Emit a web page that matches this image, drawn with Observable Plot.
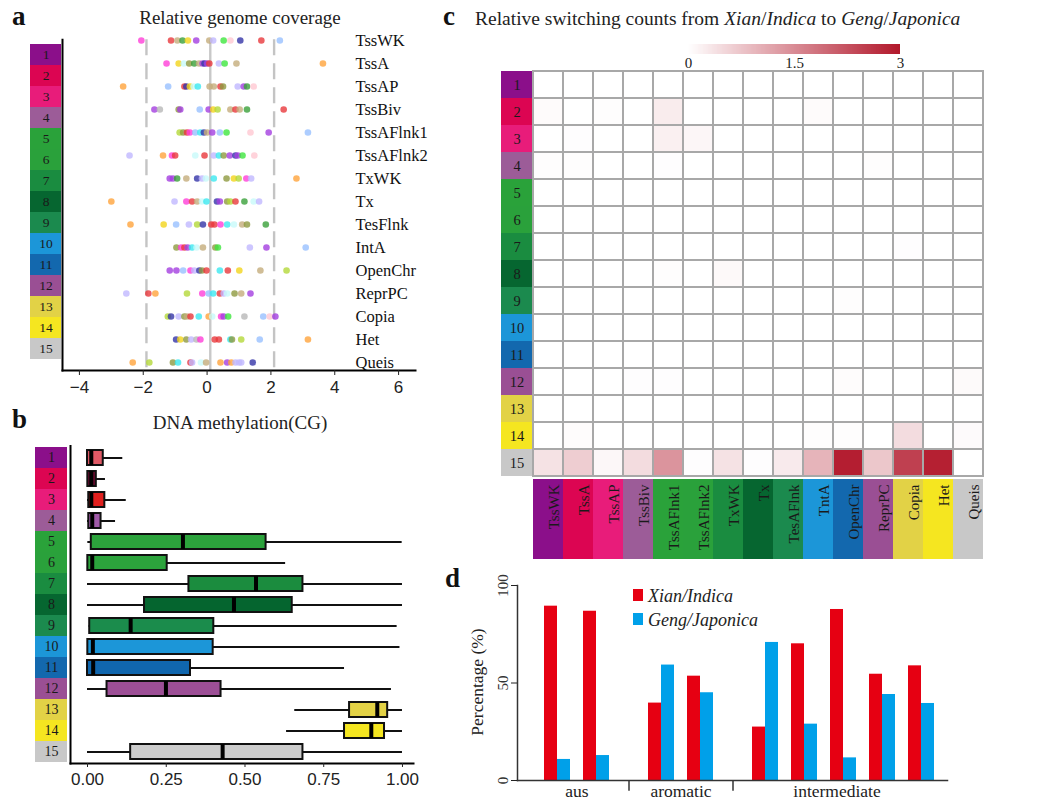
<!DOCTYPE html>
<html><head><meta charset="utf-8">
<script src="https://cdn.jsdelivr.net/npm/d3@7"></script>
<script src="https://cdn.jsdelivr.net/npm/@observablehq/plot@0.6"></script>
<style>
body{margin:0;background:#fff;}
#root{position:relative;width:1041px;height:805px;overflow:hidden;font-family:"Liberation Serif",serif;color:#222;}
.lbl{position:absolute;white-space:nowrap;line-height:1;}
svg{pointer-events:none;}
#ramp text{font-family:"Liberation Serif",serif;font-size:15px;fill:#222;}
#ramp .tick line{display:none;}
#ramp .domain{display:none;}
</style></head><body><div id="root"></div>
<script>
// ---------------- DATA ----------------
const stateIds = ["1","2","3","4","5","6","7","8","9","10","11","12","13","14","15"];
const stateNames = ["TssWK","TssA","TssAP","TssBiv","TssAFlnk1","TssAFlnk2","TxWK","Tx","TesFlnk","IntA","OpenChr","ReprPC","Copia","Het","Queis"];
const stateColors = ["#8b0f8a","#dc0552","#e81c7a","#9c5c98","#2aa23a","#2aa13b","#1a8c40","#066630","#1b8a4e","#1c96d8","#1368ae","#9a4f94","#e2d246","#f5e620","#c8c8c8"];

// panel a: relative genome coverage, one list per chromatin state
const dotPalette = {m:"#ff3fd8",r:"#e8383c",t:"#c4ad7c",g:"#3aa03a",y:"#f2d41c",p:"#a43ee0",l:"#c0b8ff",G:"#3ee63e",k:"#ffc8d2",n:"#3434a8",b:"#98c0ff",o:"#ffa43c",c:"#3ce8f0",C:"#c8fafa",v:"#b4d83a",w:"#b8b8b8",e:"#8f9a40"};
const coverageValues = [
  [-2.06,-1.13,-0.93,-0.77,-0.60,-0.34,0.07,0.19,0.52,0.73,1.04,1.70,2.28],
  [-1.27,-0.89,-0.73,-0.56,-0.40,-0.25,-0.14,-0.08,0.00,0.07,0.37,0.55,0.92,3.63],
  [-2.63,-1.22,-0.71,-0.65,-0.54,-0.42,-0.29,0.08,0.21,0.42,0.50,0.96,1.15,1.25,1.46],
  [-1.65,-1.48,-0.89,-0.84,-0.23,0.05,0.19,0.33,0.73,0.89,1.02,1.25,2.40],
  [-0.86,-0.75,-0.63,-0.54,-0.37,-0.21,-0.10,0.00,0.16,0.40,0.61,1.36,1.93,3.16],
  [-2.43,-1.38,-1.10,-1.00,-0.37,-0.08,0.21,0.37,0.52,0.71,0.89,0.96,1.11,1.48],
  [-1.17,-1.07,-0.94,-0.65,-0.31,-0.16,-0.04,0.21,0.61,0.84,0.99,1.23,1.38,2.80],
  [-3.00,-1.02,-0.65,-0.47,-0.31,-0.16,-0.02,0.31,0.40,0.63,0.73,0.89,1.17,1.46,1.63],
  [-2.40,-1.36,-0.97,-0.57,-0.31,-0.13,0.13,0.23,0.42,0.63,0.84,1.10,1.25,1.84],
  [-0.96,-0.81,-0.71,-0.61,-0.47,-0.33,-0.13,0.26,0.34,1.34,1.86,3.09],
  [-1.17,-0.96,-0.75,-0.52,-0.40,-0.24,-0.16,-0.02,0.40,0.65,1.01,1.67,2.49],
  [-2.53,-1.84,-1.62,-0.63,-0.15,0.05,0.19,0.40,0.52,0.63,0.86,1.07,1.36],
  [-1.23,-1.13,-0.89,-0.71,-0.63,-0.52,-0.26,0.05,0.16,0.44,0.52,0.66,1.17,1.76,1.96,2.14],
  [-0.97,-0.84,-0.65,-0.50,-0.33,-0.21,0.24,0.37,0.73,0.78,1.07,1.65,3.16],
  [-2.33,-1.81,-1.07,-0.91,-0.52,-0.47,-0.19,-0.03,0.42,0.63,0.76,0.89,1.00,1.07,1.43]
];
const coverageColorKeys = ["mrtgyptlGknrb","myCegtpnprlGto","obrnyCcttrelpgk","pwepbpyvtrtgr","vermbcntpbGkpb","lomrCrlcepnpGk","ppgtnlCceyvmlo","olmrtCcnpevrgCl","oyblvnrrmcCteg","emrpcCteGlpb","ppbmlnercrytv","lrovmbcrlCetp","vnletrcoCmpGwbkp","nyelwmrrcevbo","ovecrlCtopollln"];
const coverageDashed = [-1.9, 2.1];
const coverageCenter = [0.1];
const coverageTicks = [-4,-2,0,2,4,6];

// panel b: DNA methylation (CG) box statistics
const methMin = [0,0,0,0,0.001,0,0,0,0.005,0,0,0,0.658,0.632,0];
const methQ1  = [0,0.001,0.004,0.004,0.012,0.001,0.322,0.181,0.007,0.001,0,0.062,0.832,0.816,0.137];
const methMed = [0.012,0.012,0.012,0.015,0.303,0.015,0.535,0.465,0.137,0.017,0.018,0.249,0.920,0.901,0.429];
const methQ3  = [0.05,0.028,0.055,0.043,0.567,0.253,0.684,0.650,0.401,0.399,0.327,0.424,0.953,0.943,0.684];
const methMax = [0.112,0.057,0.123,0.089,0.999,0.629,1.0,1.0,0.983,0.992,0.816,0.965,1.0,1.0,1.0];
const methFill = ["#e05a66","#6e0a30","#e0201e","#a05aa8","#2ca33c","#2ca33c","#1b8c3e","#05652f","#1b8c4c","#1c96d8","#1066ae","#9c4f96","#e3d246","#f5e620","#cccccc"];
const methTicks = [0,0.25,0.5,0.75,1];

// panel c: relative switching counts (rows: from state 1..15, cols: to state)
const switchCols = ["TssWK","TssA","TssAP","TssBiv","TssAFlnk1","TssAFlnk2","TxWK","Tx","TesAFlnk","TntA","OpenChr","ReprPC","Copia","Het","Queis"];
const switchCounts = [
  [0,0,0,0,0,0,0,0,0,0,0,0,0,0,0],
  [0.05,0,0.03,0,0.25,0,0,0,0,0.05,0,0,0,0,0],
  [0,0.02,0,0,0.2,0.12,0,0,0,0,0,0,0,0,0],
  [0.03,0.03,0,0,0.02,0,0,0,0,0,0,0.03,0,0,0],
  [0,0,0,0,0,0,0,0,0,0,0,0,0,0,0],
  [0,0,0,0,0,0,0,0,0,0,0,0,0,0,0],
  [0,0,0,0,0,0,0,0,0,0,0,0,0.02,0,0],
  [0,0,0,0,0.03,0,0.08,0,0,0,0,0,0,0,0],
  [0,0,0,0,0,0,0,0,0,0,0.03,0,0,0,0],
  [0,0,0,0,0,0,0,0,0,0,0,0,0,0,0],
  [0,0,0,0,0,0,0,0,0,0,0,0,0,0,0],
  [0,0,0,0.02,0.02,0,0,0,0,0,0.04,0,0,0,0.07],
  [0,0,0,0,0,0,0,0,0,0,0,0,0,0,0],
  [0,0.04,0,0,0,0,0,0,0,0.03,0.03,0,0.45,0,0.06],
  [0.38,0.65,0.1,0.45,1.39,0.02,0.38,0.02,0.27,0.97,2.92,0.73,2.48,2.9,0]
];
const switchDomain = [0,3];
const switchTicks = [0,1.5,3];

// panel d: percentage per accession pair
const pairGroups = ["aus","aus","aromatic","aromatic","intermediate","intermediate","intermediate","intermediate","intermediate"];
const xianPct = [89.4,86.8,39.7,53.5,27.4,70.1,87.7,54.5,58.8];
const gengPct = [10.8,12.8,59.2,45.0,70.8,28.9,11.6,44.1,39.5];
const pctTicks = [0,50,100];

// ---------------- RENDER ----------------
const W = 1041, H = 805;
const root = document.getElementById("root");
const SERIF = "Liberation Serif";
const SANS = "Liberation Sans";
function box(l,t,r,b){ return {width:W,height:H,marginLeft:l,marginTop:t,marginRight:W-r,marginBottom:H-b}; }
function layer(opts){
  const node = Plot.plot({...opts, style:{background:"transparent",fontFamily:SERIF,fontSize:"15px",color:"#222",overflow:"visible"}});
  node.style.position="absolute"; node.style.left="0"; node.style.top="0";
  root.appendChild(node);
}
function label(html, x, y, css){
  const d=document.createElement("div"); d.className="lbl"; d.innerHTML=html;
  d.style.left=x+"px"; d.style.top=y+"px"; Object.assign(d.style, css||{}); root.appendChild(d); return d;
}
function strip(l,t,r,b, fs){
  layer({...box(l,t,r,b),
    x:{domain:["s"],axis:null,padding:0}, y:{domain:stateIds,axis:null,padding:0},
    marks:[
      Plot.cell(stateIds,{x:()=>"s",y:d=>d,fill:(d,i)=>stateColors[i],inset:0}),
      Plot.text(stateIds,{x:()=>"s",y:d=>d,text:d=>d,fontSize:fs,fill:"#1a1a1a",fontFamily:SERIF})
    ]});
}

// ----- panel a -----
const coverageDots = stateIds.flatMap((s,i)=>coverageValues[i].map((v,j)=>({state:s,value:v,color:dotPalette[coverageColorKeys[i][j]]||"#bbb"})));
layer({...box(62,39.2,415,370),
  x:{domain:[-4.53,6.53]},
  y:{domain:stateIds,range:[39.2,362.8],axis:null,padding:0},
  marks:[
    Plot.ruleX(coverageDashed,{stroke:"#c4c4c4",strokeWidth:2.4,strokeDasharray:"16,8"}),
    Plot.ruleX(coverageCenter,{stroke:"#c8c8c8",strokeWidth:2.4}),
    Plot.dot(coverageDots,{x:"value",y:"state",fill:"color",r:3.3,fillOpacity:0.8}),
    Plot.text(stateIds,{y:d=>d,text:(d,i)=>stateNames[i],frameAnchor:"right",dx:-60,textAnchor:"start",fontSize:16.5,fill:"#111",fontFamily:SERIF}),
    Plot.frame({anchor:"left",stroke:"#000",strokeWidth:2}),
    Plot.frame({anchor:"bottom",stroke:"#000",strokeWidth:2}),
    Plot.axisX({ticks:coverageTicks,tickSize:5,tickPadding:5,fontSize:17,fontFamily:SANS,fill:"#222",label:null})
  ]});
strip(30,39.2,61,362.8,13.5);

// ----- panel b -----
const methRows = stateIds.map((s,i)=>({state:s,min:methMin[i],q1:methQ1[i],med:methMed[i],q3:methQ3[i],max:methMax[i],fill:methFill[i]}));
layer({...box(70,445.4,413,763),
  x:{domain:[-0.054,1.035]},
  y:{domain:stateIds,range:[445.4,762.6],axis:null,padding:0},
  marks:[
    Plot.ruleY(methRows,{y:"state",x1:"min",x2:"max",stroke:"#111",strokeWidth:2}),
    Plot.barX(methRows,{y:"state",x1:"q1",x2:"q3",fill:"fill",stroke:"#111",strokeWidth:2,insetTop:3,insetBottom:3}),
    Plot.tickX(methRows,{y:"state",x:"med",stroke:"#000",strokeWidth:4,insetTop:3,insetBottom:3}),
    Plot.frame({anchor:"left",stroke:"#000",strokeWidth:2}),
    Plot.frame({anchor:"bottom",stroke:"#000",strokeWidth:2}),
    Plot.axisX({ticks:methTicks,tickFormat:d3.format(".2f"),tickSize:4,tickPadding:5,fontSize:17,fontFamily:SANS,fill:"#222",label:null})
  ]});
strip(35,445.4,67,762.6,14);

// ----- panel c -----
const switchCells = stateIds.flatMap((s,i)=>switchCols.map((c,j)=>({from:s,to:c,value:switchCounts[i][j]})));
const switchColor = {type:"linear",domain:switchDomain,range:["#ffffff","#b2182b"],interpolate:"rgb"};
layer({...box(532,68,983,479),
  x:{domain:switchCols,axis:null,padding:0}, y:{domain:stateIds,axis:null,padding:0},
  color:switchColor,
  marks:[
    Plot.cell(switchCells,{x:"to",y:"from",fill:"value",stroke:"#a8a8a8",strokeWidth:2,inset:0})
  ]});
strip(501,68,532,479,14.5);
layer({...box(532,479,983,559),
  x:{domain:switchCols,axis:null,padding:0}, y:{domain:["s"],axis:null,padding:0},
  marks:[
    Plot.cell(switchCols,{x:d=>d,y:()=>"s",fill:(d,i)=>stateColors[i],inset:0}),
    Plot.text(switchCols,{x:d=>d,text:d=>d,frameAnchor:"top",rotate:-90,textAnchor:"end",dy:5,fontSize:15,fill:"#1a1a1a",fontFamily:SERIF})
  ]});
const ramp = Plot.legend({color:switchColor,width:230,height:30,marginLeft:9,marginRight:9,marginTop:0,marginBottom:20,
  ticks:switchTicks,tickFormat:d=>String(d),tickSize:0,label:null,style:{background:"transparent"}});
ramp.id="ramp";
ramp.style.position="absolute"; ramp.style.left="679px"; ramp.style.top="44px";
root.appendChild(ramp);

// ----- panel d -----
const units=[]; const barData=[]; const groupUnits={}; const separators=[];
pairGroups.forEach((g,i)=>{
  groupUnits[g]=groupUnits[g]||[];
  if(i>0){
    if(g!==pairGroups[i-1]){ for(let k=0;k<3;k++){units.push(`gap${i}-${k}`);} separators.push(`gap${i}-1`); }
    else { units.push(`blank${i}`); groupUnits[g].push(`blank${i}`); }
  }
  const ux=`p${i}-X`, ug=`p${i}-G`;
  units.push(ux,ug);
  groupUnits[g].push(ux,ug);
  barData.push({unit:ux,pct:xianPct[i],color:"#e60012"},{unit:ug,pct:gengPct[i],color:"#00a0e9"});
});
const groupLabels = Object.keys(groupUnits).map(g=>{const u=groupUnits[g]; return {group:g, unit:u[Math.floor((u.length-1)/2)]};});
layer({...box(517,585,947,780),
  x:{domain:units,axis:null,paddingInner:0,paddingOuter:0.54,align:0.67},
  y:{domain:[0,100]},
  marks:[
    Plot.barY(barData,{x:"unit",y:"pct",fill:"color",inset:0}),
    Plot.ruleX(separators,{x:d=>d,y1:0,y2:-5.5,stroke:"#333",strokeWidth:1.5}),
    Plot.frame({anchor:"left",stroke:"#333",strokeWidth:1.5}),
    Plot.frame({anchor:"bottom",stroke:"#333",strokeWidth:1.5}),
    Plot.axisY({ticks:pctTicks,tickSize:6,tickRotate:-90,tickPadding:4,fontSize:15,fontFamily:SERIF,fill:"#333",label:null}),
    Plot.text(groupLabels,{x:"unit",text:"group",frameAnchor:"bottom",dy:16,fontSize:17.5,fill:"#222",fontFamily:SERIF})
  ]});

// ----- titles, panel letters, legends -----
const letterCss={fontFamily:SERIF,fontWeight:"bold",fontSize:"27px",color:"#111"};
label("a",12,3,letterCss);
label("b",12,406,letterCss);
label("c",443,3,letterCss);
label("d",445,565,letterCss);
label("Relative genome coverage",240,8,{fontSize:"19px",transform:"translateX(-50%)"});
label("DNA methylation(CG)",240,413,{fontSize:"19px",transform:"translateX(-50%)"});
label("Relative switching counts from <i>Xian</i>/<i>Indica</i> to <i>Geng</i>/<i>Japonica</i>",475,9,{fontSize:"19.5px"});
label("Percentage (%)",478,682,{fontSize:"17.5px",transform:"translate(-50%,-50%) rotate(-90deg)"});
label("",633,589,{width:"10px",height:"12px",background:"#e60012"});
label("<i>Xian/Indica</i>",648,587,{fontSize:"18px"});
label("",633,613,{width:"10px",height:"12px",background:"#00a0e9"});
label("<i>Geng/Japonica</i>",648,611,{fontSize:"18px"});
</script>
</body></html>
